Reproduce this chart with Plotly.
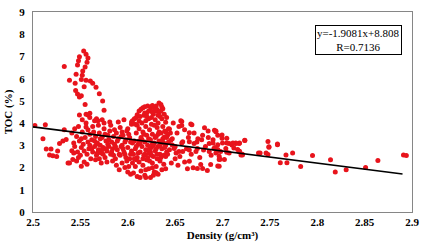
import plotly.graph_objects as go

# ---- data ----
# upper arc (high TOC) around density 2.53-2.58
arc_x = [2.5535, 2.556, 2.558, 2.549, 2.548, 2.547, 2.557, 2.555, 2.533, 2.5525, 2.5455, 2.552,
         2.551, 2.556, 2.5605, 2.563, 2.5385, 2.5445, 2.554, 2.5665, 2.545, 2.547, 2.551, 2.549,
         2.570, 2.5735, 2.555, 2.575, 2.549, 2.556, 2.560]
arc_y = [7.25, 7.10, 6.93, 6.99, 6.81, 6.62, 6.74, 6.52, 6.55, 6.35, 6.20, 6.15,
         5.96, 5.93, 5.90, 5.79, 5.93, 5.79, 5.64, 5.61, 5.47, 5.31, 5.23, 5.18,
         5.32, 4.99, 4.84, 4.58, 4.36, 4.40, 4.44]

# sparse left part 2.50-2.545
left_x = [2.502, 2.513, 2.5105, 2.514, 2.519, 2.5175, 2.521, 2.526, 2.528, 2.5315, 2.535, 2.525,
          2.533, 2.537, 2.5385, 2.542, 2.551, 2.541]
left_y = [3.89, 3.93, 3.30, 2.84, 2.84, 2.57, 2.53, 2.75, 3.08, 3.20, 3.26, 2.50,
          3.70, 2.21, 2.21, 2.36, 2.06, 2.76]

# cluster 2.54-2.56
a_x = [2.541, 2.543, 2.544, 2.546, 2.547, 2.548, 2.549, 2.550, 2.551, 2.552, 2.553, 2.554, 2.555,
       2.556, 2.557, 2.558, 2.559, 2.560, 2.561, 2.554, 2.548, 2.556, 2.552, 2.544, 2.558, 2.560,
       2.551, 2.546, 2.543, 2.557, 2.558, 2.5599, 2.565, 2.5686]
a_y = [3.55, 3.10, 2.95, 3.40, 2.70, 3.85, 3.20, 2.55, 2.90, 3.60, 3.05, 2.75, 3.35,
       3.82, 2.60, 3.15, 2.85, 3.50, 2.40, 2.25, 2.45, 4.00, 4.15, 3.75, 3.70, 3.00,
       3.30, 2.30, 2.65, 2.15, 4.36, 4.25, 4.11, 4.11]

# cluster 2.56-2.585
b_x = [2.562, 2.563, 2.564, 2.565, 2.566, 2.567, 2.568, 2.569, 2.570, 2.571, 2.572, 2.573, 2.574,
       2.575, 2.576, 2.577, 2.578, 2.579, 2.580, 2.581, 2.582, 2.583, 2.584, 2.585, 2.563, 2.566,
       2.569, 2.572, 2.575, 2.578, 2.581, 2.584, 2.565, 2.568, 2.571, 2.574, 2.577, 2.580, 2.583,
       2.562, 2.567, 2.573, 2.579, 2.576, 2.570, 2.582, 2.585, 2.567, 2.573]
b_y = [3.25, 2.70, 3.60, 2.95, 3.40, 2.55, 3.10, 2.80, 3.55, 3.00, 2.65, 3.35, 2.90,
       3.75, 2.45, 3.20, 2.75, 3.45, 2.95, 3.65, 2.60, 3.15, 2.85, 3.40, 3.85, 2.35,
       3.90, 2.20, 4.00, 2.25, 4.05, 2.30, 3.20, 2.65, 3.30, 2.60, 2.85, 3.25, 2.70,
       2.85, 3.05, 2.80, 3.05, 3.50, 2.40, 3.90, 2.55, 4.20, 4.15]

# cluster 2.585-2.605
c_x = [2.586, 2.587, 2.588, 2.589, 2.590, 2.591, 2.592, 2.593, 2.594, 2.595, 2.596, 2.597, 2.598,
       2.599, 2.600, 2.601, 2.602, 2.603, 2.604, 2.605, 2.588, 2.591, 2.594, 2.597, 2.600, 2.603,
       2.590, 2.596, 2.586, 2.589, 2.592, 2.595, 2.598, 2.601, 2.604, 2.587, 2.593, 2.599, 2.602,
       2.605, 2.600, 2.594, 2.597, 2.603]
c_y = [3.05, 2.40, 3.55, 2.80, 3.30, 2.60, 3.80, 2.95, 2.20, 3.45, 2.70, 3.15, 2.45,
       3.65, 2.90, 2.05, 3.35, 2.60, 3.95, 3.10, 2.10, 1.90, 3.00, 2.00, 1.80, 1.70,
       4.05, 4.15, 3.70, 3.20, 2.55, 2.85, 3.25, 3.50, 2.75, 2.95, 3.40, 2.30, 2.40,
       2.20, 3.75, 3.60, 2.60, 3.15]

# dense cluster 2.605-2.645 (lower, middle, hump)
d_x = [2.606, 2.608, 2.610, 2.612, 2.614, 2.616, 2.618, 2.620, 2.622, 2.624, 2.626, 2.628, 2.630,
       2.632, 2.634, 2.636, 2.638, 2.640, 2.613, 2.619, 2.627, 2.609, 2.623, 2.631, 2.626, 2.630,
       2.619,
       2.606, 2.607, 2.608, 2.609, 2.610, 2.611, 2.612, 2.613, 2.614, 2.615, 2.616, 2.617, 2.618,
       2.619, 2.620, 2.621, 2.622, 2.623, 2.624, 2.625, 2.626, 2.627, 2.628, 2.629, 2.630, 2.631,
       2.632, 2.633, 2.634, 2.635, 2.636, 2.637, 2.638, 2.639, 2.640, 2.641, 2.642, 2.643, 2.644,
       2.645, 2.607, 2.610, 2.613, 2.616, 2.619, 2.622, 2.625, 2.628, 2.631, 2.634, 2.637, 2.640,
       2.643, 2.609, 2.615, 2.621, 2.627, 2.633, 2.639, 2.611, 2.617, 2.623, 2.629, 2.635, 2.641,
       2.618, 2.626, 2.632, 2.636, 2.612, 2.624, 2.630, 2.638, 2.642,
       2.604, 2.605, 2.607, 2.609, 2.610, 2.612, 2.614, 2.616, 2.618, 2.621, 2.624, 2.626, 2.628,
       2.630, 2.631, 2.633, 2.635, 2.636, 2.637, 2.630, 2.633, 2.6385, 2.6245, 2.619, 2.640, 2.627,
       2.634, 2.622, 2.615, 2.612, 2.629, 2.636, 2.641, 2.617, 2.625, 2.608, 2.620, 2.632,
       2.618, 2.622, 2.626, 2.629, 2.632, 2.620, 2.625, 2.635, 2.613]
d_y = [1.75, 2.05, 1.60, 2.25, 1.85, 2.10, 1.65, 2.35, 1.95, 1.55, 2.20, 1.80, 2.05,
       1.70, 2.30, 1.90, 2.15, 1.95, 1.55, 1.90, 1.65, 2.35, 2.30, 2.40, 1.99, 1.77,
       1.55,
       2.60, 3.20, 2.85, 3.55, 2.45, 3.05, 3.75, 2.70, 3.35, 2.95, 3.60, 2.55, 3.15,
       2.80, 3.45, 3.00, 2.65, 3.70, 3.25, 2.90, 3.50, 2.50, 3.10, 2.75, 3.40, 3.80,
       2.95, 3.20, 2.60, 3.55, 2.85, 3.30, 2.55, 3.65, 3.00, 2.70, 3.45, 3.15, 2.80,
       3.55, 2.40, 3.90, 3.10, 2.40, 3.85, 3.30, 2.55, 3.90, 2.60, 3.00, 3.85, 2.50,
       3.75, 2.95, 3.25, 2.45, 3.00, 3.60, 2.90, 2.65, 3.50, 2.85, 3.35, 2.45, 3.35,
       2.60, 3.05, 3.50, 3.20, 3.20, 2.70, 2.85, 3.10, 2.60,
       4.05, 4.11, 4.20, 4.25, 4.38, 4.55, 4.62, 4.69, 4.74, 4.77, 4.72, 4.79, 4.70,
       4.77, 4.60, 4.91, 4.84, 4.72, 4.65, 4.55, 4.47, 4.40, 4.55, 4.11, 4.04, 4.40,
       4.30, 4.20, 4.00, 4.10, 4.15, 4.20, 4.25, 4.35, 3.95, 3.95, 4.45, 4.00,
       4.45, 4.55, 4.50, 4.60, 4.35, 4.30, 4.25, 4.55, 4.30]

# moderate cluster 2.645-2.725
e_x = [2.657, 2.657, 2.6677, 2.681, 2.6848, 2.693, 2.695, 2.665, 2.679, 2.674, 2.665, 2.670,
       2.686, 2.658, 2.658, 2.665, 2.672, 2.6735, 2.680, 2.686, 2.691, 2.6945, 2.698, 2.7035,
       2.707, 2.710, 2.714, 2.7175, 2.7235, 2.7175, 2.721, 2.707, 2.665, 2.669, 2.6735, 2.679,
       2.684, 2.6965, 2.677, 2.6875, 2.6965, 2.702, 2.654, 2.651, 2.649, 2.647, 2.6455, 2.640,
       2.644, 2.6385, 2.656, 2.6665,
       2.7195, 2.721, 2.716, 2.718, 2.718, 2.714, 2.711, 2.712, 2.7045, 2.7045, 2.7045, 2.6995,
       2.6995, 2.700, 2.695, 2.695, 2.6965, 2.6975, 2.695, 2.693, 2.6915, 2.690, 2.693,
       2.647, 2.650, 2.652, 2.655, 2.657, 2.660, 2.662, 2.664, 2.667, 2.670, 2.673, 2.676,
       2.678, 2.682, 2.685, 2.688, 2.690, 2.692, 2.646, 2.650, 2.654, 2.648, 2.653, 2.660, 2.663]
e_y = [4.07, 3.89, 3.93, 3.79, 3.64, 3.64, 3.45, 3.57, 3.45, 3.30, 3.16, 3.08,
       3.08, 3.16, 2.72, 2.79, 2.72, 2.86, 2.79, 2.72, 2.86, 2.72, 2.72, 2.86,
       3.08, 3.01, 3.08, 3.08, 3.23, 2.72, 2.60, 2.65, 2.28, 1.99, 1.96, 1.96,
       1.87, 2.06, 2.14, 2.14, 2.36, 2.36, 2.72, 2.65, 2.86, 3.01, 3.23, 3.60,
       3.74, 3.38, 4.11, 3.96,
       2.56, 2.56, 2.81, 2.73, 3.10, 3.10, 3.10, 2.88, 3.32, 3.10, 2.69, 3.46,
       3.32, 3.10, 3.03, 2.81, 2.51, 2.37, 2.07, 3.61, 3.68, 3.10, 2.66,
       3.30, 2.95, 3.55, 2.50, 3.10, 3.70, 2.85, 3.35, 2.60, 3.55, 3.15, 2.45,
       3.25, 2.95, 3.35, 2.55, 3.25, 2.90, 2.20, 2.40, 3.85, 4.00, 2.10, 2.25, 1.95]

# sparse right tail 2.72-2.9
r_x = [2.748, 2.749, 2.748, 2.7397, 2.758, 2.761, 2.768, 2.767, 2.774, 2.7825, 2.795, 2.814,
       2.819, 2.8305, 2.851, 2.864, 2.891, 2.894, 2.7235, 2.758, 2.749, 2.738, 2.746]
r_y = [3.17, 2.91, 2.59, 2.66, 3.03, 2.22, 2.22, 2.56, 2.66, 2.05, 2.54, 2.35,
       1.80, 1.90, 2.00, 2.32, 2.56, 2.54, 3.22, 3.06, 2.94, 2.65, 2.65]

# trend line as drawn in the figure
line_x = [2.5, 2.89]
line_y = [3.83, 1.71]

x_ticks = [2.5, 2.55, 2.6, 2.65, 2.7, 2.75, 2.8, 2.85, 2.9]
x_tick_text = ["2.5", "2.55", "2.6", "2.65", "2.7", "2.75", "2.8", "2.85", "2.9"]
y_ticks = [0, 1, 2, 3, 4, 5, 6, 7, 8, 9]

eq_text = "y=-1.9081x+8.808<br>R=0.7136"

all_x = arc_x + left_x + a_x + b_x + c_x + d_x + e_x + r_x
all_y = arc_y + left_y + a_y + b_y + c_y + d_y + e_y + r_y

serif = "Liberation Serif, Times New Roman, serif"

fig = go.Figure()
fig.add_trace(go.Scatter(x=all_x, y=all_y, mode="markers",
                         marker=dict(color="#e8141c", size=5, line=dict(width=0)),
                         showlegend=False, hoverinfo="skip"))
fig.add_trace(go.Scatter(x=line_x, y=line_y, mode="lines",
                         line=dict(color="#000000", width=1.6),
                         showlegend=False, hoverinfo="skip"))

fig.add_annotation(x=0.858, y=0.862, xref="paper", yref="paper",
                   text=eq_text, showarrow=False, align="center",
                   xanchor="center", yanchor="middle",
                   font=dict(family=serif, size=11, color="#000000"),
                   bordercolor="#000000", borderwidth=1, borderpad=1,
                   bgcolor="#ffffff")

axis_common = dict(showgrid=False, zeroline=False, showline=True, linecolor="#868686",
                   linewidth=1, mirror=True, ticks="",
                   tickfont=dict(family=serif, size=11, color="#000000", weight="bold"))

fig.update_xaxes(range=[2.5, 2.9], tickvals=x_ticks, ticktext=x_tick_text,
                 title=dict(text="Density (g/cm³)", standoff=4,
                            font=dict(family=serif, size=11, color="#000000", weight="bold")),
                 **axis_common)
fig.update_yaxes(range=[0, 9], tickvals=y_ticks, ticklabelstandoff=5,
                 title=dict(text="TOC (%)", standoff=4,
                            font=dict(family=serif, size=11, color="#000000", weight="bold")),
                 **axis_common)

fig.update_layout(width=425, height=246, margin=dict(l=33, r=11, t=6, b=34),
                  plot_bgcolor="#ffffff", paper_bgcolor="#ffffff")

fig.write_html("out.html", config={"displayModeBar": False},
               post_script="document.body.style.margin='0';")
